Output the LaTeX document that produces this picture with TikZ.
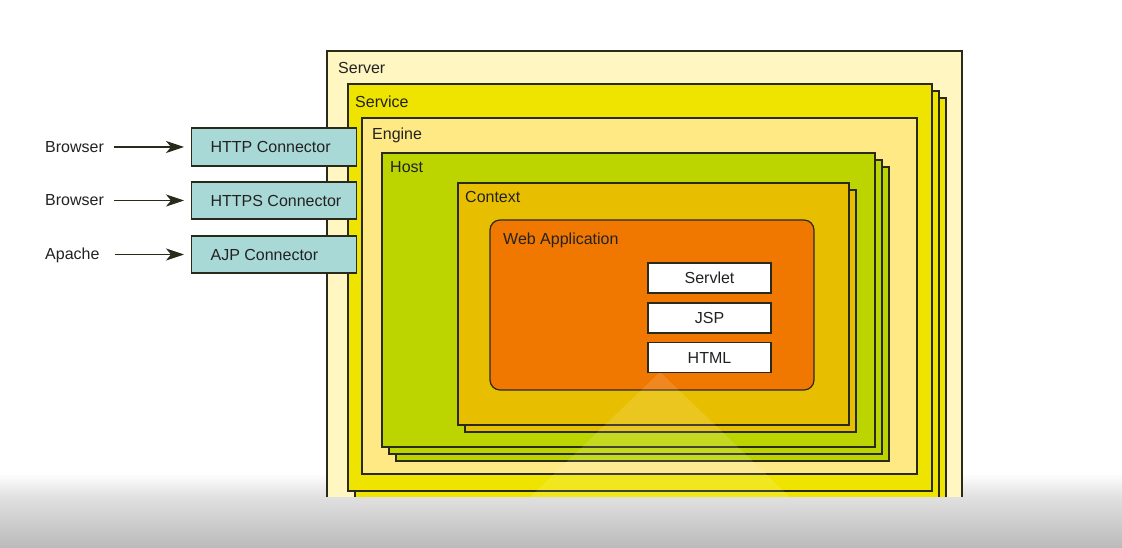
\documentclass[tikz,border=0pt]{standalone}
\usepackage{fontspec}
\setmainfont{Liberation Sans}
\usetikzlibrary{arrows.meta}
\definecolor{serverc}{HTML}{FFF6C2}
\definecolor{servicec}{HTML}{EEE400}
\definecolor{enginec}{HTML}{FFE984}
\definecolor{hostc}{HTML}{BCD400}
\definecolor{contextc}{HTML}{E8BF00}
\definecolor{webappc}{HTML}{F07800}
\definecolor{connc}{HTML}{A9D9D6}
\definecolor{linec}{HTML}{2A2A1A}
\definecolor{txtc}{HTML}{222222}
\begin{document}
\begin{tikzpicture}[x=1pt,y=-1pt,
  font=\fontsize{16}{19}\selectfont,
  every node/.style={text=txtc},
  container/.style={draw=linec, line width=1.2pt, anchor=north west, inner sep=0pt, outer sep=0pt},
  lbl/.style={anchor=base west, inner sep=0pt},
  item/.style={draw=linec, line width=1.2pt, fill=white, minimum width=123pt, minimum height=30pt, inner sep=0pt},
  conn/.style={draw=linec, line width=1.2pt, fill=connc, anchor=west, inner sep=0pt},
  srclbl/.style={anchor=base west, inner sep=0pt},
  arr/.style={draw=linec, line width=1.1pt, -{Stealth[length=18pt,width=12pt,inset=5pt]}, shorten >=7pt}
]
\newcommand{\conntext}[1]{\makebox[165pt][l]{\hspace{19pt}#1}}
\useasboundingbox (0,0) rectangle (1122,548);
\fill[white] (0,0) rectangle (1122,548);
% background fade towards the player bar (behind the diagram)
\shade[top color=white, bottom color=black!12] (0,473) rectangle (1122,497);

% Server
\node[container, fill=serverc, minimum width=635pt, minimum height=480pt] (server) at (327,51) {};
\node[lbl] (serverl) at (338,74) {Server};

% Service stack
\node[container, fill=servicec, minimum width=584pt, minimum height=407pt] (service2) at (362,98) {};
\node[container, fill=servicec, minimum width=584pt, minimum height=407pt] (service1) at (355,91) {};
\node[container, fill=servicec, minimum width=584pt, minimum height=407pt] (service) at (348,84) {};
\node[lbl] (servicel) at (355,108) {Service};

% Engine
\node[container, fill=enginec, minimum width=555pt, minimum height=356pt] (engine) at (362,118) {};
\node[lbl] (enginel) at (372,140) {Engine};

% Host stack
\node[container, fill=hostc, minimum width=493pt, minimum height=294pt] (host2) at (396,167) {};
\node[container, fill=hostc, minimum width=493pt, minimum height=294pt] (host1) at (389,160) {};
\node[container, fill=hostc, minimum width=493pt, minimum height=294pt] (host) at (382,153) {};
\node[lbl] (hostl) at (390,173) {Host};

% Context stack
\node[container, fill=contextc, minimum width=391pt, minimum height=242pt] (context1) at (465,190) {};
\node[container, fill=contextc, minimum width=391pt, minimum height=242pt] (context) at (458,183) {};
\node[lbl] (contextl) at (465,203) {Context};

% Web application
\node[container, fill=webappc, rounded corners=10pt, minimum width=324pt, minimum height=170pt] (webapp) at (490,220) {};
\node[lbl] (webappl) at (503,244) {Web Application};

% spotlight
\fill[white, fill opacity=0.12] (660,372) -- (790,497) -- (530,497) -- cycle;

% items
\node[item] (servlet) at (709.5,278) {Servlet};
\node[item] (jsp) at (709.5,318) {JSP};
\node[item] (html) at (709.5,357.7) {HTML};

% connectors
\node[conn, minimum height=38pt] (http) at (191,147) {\conntext{HTTP Connector}};
\node[conn, minimum height=37pt] (https) at (191,200.5) {\conntext{HTTPS Connector}};
\node[conn, minimum height=37pt] (ajp) at (191,254.5) {\conntext{AJP Connector}};

\node[srclbl] (b1) at (45,152.5) {Browser};
\node[srclbl] (b2) at (45,206) {Browser};
\node[srclbl] (ap) at (45,259.5) {Apache};

\draw[arr, shorten <=10pt] (b1.east |- http.west) -- (http.west);
\draw[arr, shorten <=10pt] (b2.east |- https.west) -- (https.west);
\draw[arr, shorten <=15pt] (ap.east |- ajp.west) -- (ajp.west);

% bottom player bar
\shade[top color=black!12, bottom color=black!27] (0,497) rectangle (1122,548);
\end{tikzpicture}
\end{document}
